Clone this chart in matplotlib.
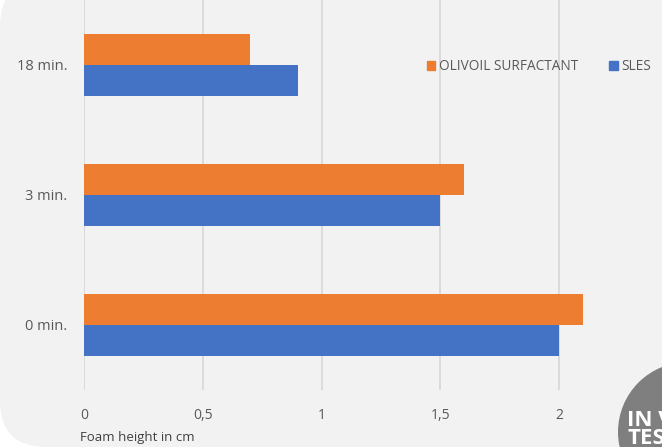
"""Foam height comparison: Olivoil surfactant vs SLES."""

import matplotlib.pyplot as plt
import numpy as np
from matplotlib.patches import Circle, FancyBboxPatch, Patch


CATEGORIES = ["0 min.", "3 min.", "18 min."]
OLIVOIL = [2.1, 1.6, 0.7]
SLES = [2.0, 1.5, 0.9]
X_TICKS = [0, 0.5, 1, 1.5, 2]
X_TICK_LABELS = ["0", "0,5", "1", "1,5", "2"]

ORANGE = "#ED7D31"
BLUE = "#4472C4"
TEXT = "#595959"
BG = "#F2F2F2"

plt.rcParams["font.family"] = ["Open Sans", "DejaVu Sans"]

W, H = 662, 447
fig = plt.figure(figsize=(W / 100, H / 100), dpi=100)
fig.patch.set_facecolor("white")

# rounded light-grey card behind the chart
card = FancyBboxPatch(
    (0, 0), (W + 60) / W, (H + 20) / H,
    boxstyle="round,pad=0,rounding_size=0.07",
    transform=fig.transFigure, facecolor=BG, edgecolor="none", zorder=-10,
    mutation_aspect=W / H,
)
fig.patches.append(card)

ax = fig.add_axes([84 / W, 57 / H, 594 / W, 390 / H])
ax.set_facecolor("none")

y = np.arange(len(CATEGORIES))
bh = 0.238
ax.barh(y + bh / 2, OLIVOIL, height=bh, color=ORANGE, label="OLIVOIL SURFACTANT", zorder=3)
ax.barh(y - bh / 2, SLES, height=bh, color=BLUE, label="SLES", zorder=3)

ax.set_xlim(0, 2.5)
ax.set_ylim(-0.5, 2.5)
ax.set_xticks(X_TICKS)
ax.set_xticklabels(X_TICK_LABELS)
ax.set_yticks(y)
ax.set_yticklabels(CATEGORIES)
ax.tick_params(axis="both", length=0, labelcolor=TEXT)
ax.tick_params(axis="x", pad=13, labelsize=10)
ax.tick_params(axis="y", pad=12, labelsize=10.5)
ax.grid(axis="x", color="#D9D9D9", linewidth=1.3, zorder=0)
for s in ax.spines.values():
    s.set_visible(False)

handles = [Patch(color=ORANGE), Patch(color=BLUE)]
fig.legend(
    handles, ["OLIVOIL SURFACTANT", "SLES"],
    loc="center", bbox_to_anchor=(539 / W, 1 - 67 / H), ncol=2, frameon=False,
    handlelength=0.6, handleheight=0.6, handletextpad=0.3, columnspacing=2.3,
    labelcolor=TEXT, fontsize=9.8,
)

fig.text(80 / W, 1 - 437 / H, "Foam height in cm", fontsize=9.5, color="#404040",
         ha="left", va="center")

# cropped badge in the corner
badge = Circle((688 / 100, (H - 432) / 100), 70 / 100, transform=fig.dpi_scale_trans,
               facecolor="#7F7F7F", edgecolor="none", zorder=5)
fig.patches.append(badge)
fig.text(627 / W, 1 - 410 / H, "IN VITRO\nTESTED", fontsize=16, fontweight="bold",
         color="white", ha="left", va="top", linespacing=0.8, zorder=6)

fig.savefig("out.png", dpi=100, facecolor=fig.get_facecolor())
